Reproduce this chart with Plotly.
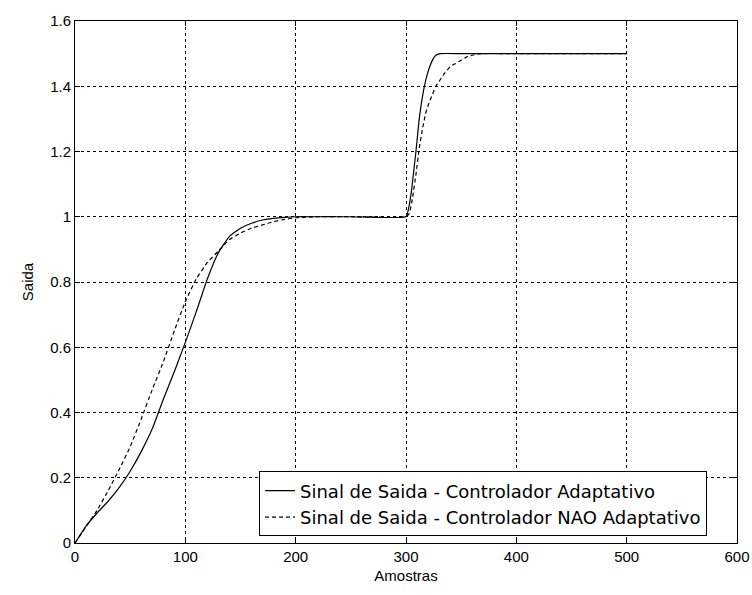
import plotly.graph_objects as go

# Adaptive controller output (solid)
x_adapt = [0, 10, 20, 30, 40, 50, 60, 70, 80, 90, 100, 110, 120, 130, 140, 150, 160, 170,
           180, 190, 200, 220, 250, 300, 302, 305, 307, 309, 312, 315, 318, 321, 324, 327,
           331, 350, 400, 450, 500]
y_adapt = [0, 0.052, 0.092, 0.128, 0.17, 0.22, 0.28, 0.35, 0.44, 0.525, 0.615, 0.71,
           0.81, 0.89, 0.94, 0.965, 0.98, 0.99, 0.995, 0.998, 1.0, 1.0, 1.0, 1.0, 1.02,
           1.08, 1.14, 1.2, 1.3, 1.37, 1.42, 1.455, 1.48, 1.495, 1.5, 1.5, 1.5, 1.5, 1.5]

# Non-adaptive controller output (dashed)
x_nonadapt = [0, 10, 20, 30, 40, 50, 60, 70, 80, 90, 100, 110, 120, 130, 140, 150, 160, 170,
              180, 190, 200, 220, 250, 300, 303, 306, 309, 312, 315, 318, 321, 324, 327, 331,
              335, 340, 345, 350, 355, 360, 368, 400, 450, 500]
y_nonadapt = [0, 0.05, 0.1, 0.16, 0.225, 0.295, 0.38, 0.47, 0.555, 0.65, 0.74, 0.81,
              0.86, 0.895, 0.93, 0.95, 0.965, 0.975, 0.985, 0.992, 0.997, 1.0, 1.0, 1.0,
              1.01, 1.06, 1.13, 1.21, 1.27, 1.32, 1.35, 1.375, 1.4, 1.42, 1.44, 1.46, 1.47,
              1.48, 1.49, 1.495, 1.5, 1.5, 1.5, 1.5]

x_ticks = [0, 100, 200, 300, 400, 500, 600]
y_ticks = [0, 0.2, 0.4, 0.6, 0.8, 1.0, 1.2, 1.4, 1.6]
y_tick_text = ["0", "0.2", "0.4", "0.6", "0.8", "1", "1.2", "1.4", "1.6"]

name_adapt = "Sinal de Saida - Controlador Adaptativo"
name_nonadapt = "Sinal de Saida - Controlador NAO Adaptativo"

FONT = "Liberation Sans, Arial, sans-serif"
LEGEND_FONT = "DejaVu Sans, sans-serif"

fig = go.Figure()
fig.add_trace(go.Scatter(x=x_adapt, y=y_adapt, mode="lines", name=name_adapt,
                         line=dict(color="black", width=1.2, shape="spline", smoothing=0.4)))
fig.add_trace(go.Scatter(x=x_nonadapt, y=y_nonadapt, mode="lines", name=name_nonadapt,
                         line=dict(color="black", width=1.2, dash="4px,3px",
                                   shape="spline", smoothing=0.4)))

axis_common = dict(
    showline=True, linecolor="black", linewidth=1, mirror="ticks",
    ticks="inside", ticklen=5, tickcolor="black",
    showgrid=True, gridcolor="black", gridwidth=1, griddash="3px,3px",
    zeroline=False, tickfont=dict(family=FONT, size=15, color="black"),
)

fig.update_xaxes(range=[0, 600], tickvals=x_ticks, **axis_common,
                 title=dict(text="Amostras", font=dict(family=FONT, size=15, color="black"),
                            standoff=6))
fig.update_yaxes(range=[0, 1.6], tickvals=y_ticks, ticktext=y_tick_text, **axis_common,
                 title=dict(text="Saida", font=dict(family=FONT, size=15, color="black"),
                            standoff=12))

fig.update_layout(
    template="none",
    width=752, height=595,
    margin=dict(l=75, r=15, t=21, b=52),
    paper_bgcolor="white", plot_bgcolor="white",
    font=dict(family=FONT, color="black"),
    showlegend=True,
    legend=dict(x=0.278, y=0.137, xanchor="left", yanchor="top",
                bgcolor="white", bordercolor="black", borderwidth=1,
                font=dict(family=LEGEND_FONT, size=18, color="black"),
                tracegroupgap=0),
)

fig.write_html("out.html")
